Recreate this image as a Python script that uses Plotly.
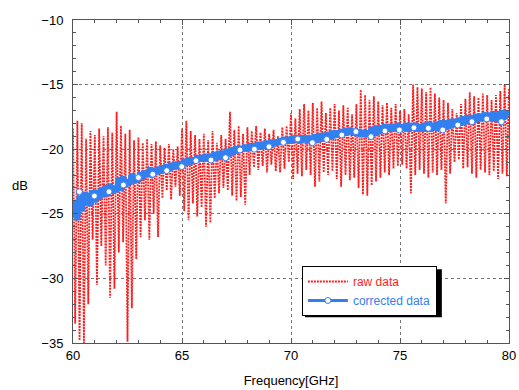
import numpy as np
import plotly.graph_objects as go

# ---- data ----
freq = np.round(np.arange(60.0, 80.0001, 0.1), 2)

raw_db = [
    -18.4, -33.5, -17.8, -34.8, -18.0, -35.0, -19.2, -32.0, -18.6, -27.0,
    -18.9, -30.5, -18.4, -27.5, -19.0, -29.0, -18.3, -31.5, -18.7, -30.8,
    -17.1, -28.0, -18.2, -27.2, -18.8, -34.9, -18.5, -32.3, -19.3, -28.5,
    -19.1, -26.8, -19.5, -25.5, -19.2, -27.0, -19.6, -25.0, -19.4, -26.8,
    -19.7, -23.8, -19.9, -23.2, -19.6, -23.9, -20.0, -22.9, -19.8, -23.6,
    -18.4, -24.8, -17.8, -25.5, -18.6, -24.2, -18.9, -25.2, -19.2, -24.5,
    -18.8, -26.0, -19.3, -25.7, -18.6, -23.8, -19.5, -23.4, -18.9, -23.0,
    -19.2, -23.2, -17.1, -23.6, -18.5, -24.0, -18.2, -23.7, -18.8, -24.3,
    -18.3, -22.0, -18.6, -21.4, -18.2, -21.6, -18.7, -21.3, -18.4, -21.8,
    -18.8, -21.2, -18.5, -21.7, -19.0, -21.8, -18.3, -21.5, -18.2, -21.0,
    -17.2, -22.3, -17.6, -21.9, -16.9, -22.1, -16.5, -21.6, -17.0, -22.0,
    -16.4, -22.9, -16.8, -22.5, -16.3, -21.8, -17.2, -22.0, -16.8, -21.7,
    -16.5, -22.3, -17.0, -22.9, -16.6, -22.0, -16.8, -22.4, -17.3, -22.2,
    -16.5, -23.0, -15.4, -23.5, -15.8, -23.6, -16.2, -22.8, -15.9, -22.5,
    -16.3, -22.2, -16.6, -21.8, -16.4, -22.0, -16.8, -21.5, -16.5, -21.3,
    -17.0, -21.2, -16.9, -21.5, -17.3, -23.4, -15.0, -22.0, -15.2, -21.6,
    -15.3, -21.9, -15.6, -22.2, -15.2, -21.8, -15.7, -22.0, -16.0, -21.6,
    -16.2, -24.2, -16.4, -21.9, -16.9, -21.0, -17.2, -20.8, -16.5, -21.5,
    -16.1, -21.4, -15.6, -21.9, -15.9, -22.2, -16.0, -21.6, -15.7, -21.8,
    -15.8, -22.0, -16.2, -21.7, -15.8, -22.3, -15.5, -21.9, -15.0, -22.1,
    -15.3,
]

corrected_db = [
    -25.3, -24.0, -25.5, -23.6, -24.8, -23.5, -24.3, -23.4, -24.4, -23.2,
    -24.1, -23.2, -23.9, -23.0, -23.7, -22.8, -23.6, -22.7, -23.4, -22.9,
    -23.3, -22.2, -23.2, -22.1, -22.9, -22.4, -22.7, -21.9, -22.6, -22.1,
    -22.5, -21.8, -22.3, -21.7, -22.1, -21.7, -21.9, -21.5, -21.9, -21.4,
    -21.8, -21.3, -21.7, -21.2, -21.6, -21.1, -21.5, -21.0, -21.4, -21.0,
    -21.3, -20.8, -21.2, -20.7, -21.1, -20.7, -21.0, -20.5, -20.9, -20.5,
    -20.9, -20.4, -20.8, -20.4, -20.7, -20.3, -20.6, -20.2, -20.5, -20.2,
    -20.5, -20.0, -20.4, -19.9, -20.3, -19.8, -20.2, -19.8, -20.1, -19.7,
    -20.1, -19.6, -20.0, -19.6, -19.9, -19.5, -19.8, -19.5, -19.8, -19.4,
    -19.8, -19.3, -19.7, -19.3, -19.6, -19.2, -19.5, -19.1, -19.5, -19.1,
    -19.5, -19.0, -19.4, -19.0, -19.5, -19.0, -19.4, -19.0, -19.5, -19.0,
    -19.4, -18.9, -19.3, -18.8, -19.2, -18.8, -19.2, -18.7, -19.1, -18.6,
    -19.0, -18.6, -19.0, -18.5, -18.9, -18.4, -18.8, -18.4, -18.8, -18.5,
    -18.9, -18.5, -19.0, -18.6, -19.0, -18.6, -18.9, -18.3, -18.8, -18.2,
    -18.7, -18.2, -18.6, -18.1, -18.6, -18.1, -18.5, -18.1, -18.5, -18.0,
    -18.6, -18.1, -18.5, -18.0, -18.6, -18.0, -18.5, -18.0, -18.6, -18.1,
    -18.6, -18.0, -18.5, -17.9, -18.6, -18.0, -18.5, -17.9, -18.4, -17.8,
    -18.4, -17.8, -18.3, -17.7, -18.2, -17.7, -18.1, -17.6, -18.1, -17.5,
    -18.0, -17.4, -17.9, -17.4, -17.9, -17.3, -17.8, -17.3, -17.7, -17.2,
    -17.8, -17.2, -17.7, -17.1, -17.7, -17.1, -17.6, -17.0, -17.6, -17.1,
    -17.4,
]

marker_freq = [60.29, 60.98, 61.65, 62.31, 63.0, 63.66, 64.3, 64.99, 65.64, 66.33,
               67.0, 67.66, 68.32, 68.99, 69.65, 70.31, 70.98, 71.64, 72.33, 72.98,
               73.67, 74.31, 74.97, 75.64, 76.3, 76.96, 77.65, 78.3, 78.98, 79.65]
marker_db = [-23.29, -23.62, -23.29, -22.77, -22.2, -21.94, -21.66, -21.35, -20.89, -20.84,
             -20.66, -20.06, -20.0, -19.81, -19.47, -19.21, -19.5, -19.24, -18.9, -18.64,
             -19.03, -18.59, -18.51, -18.34, -18.38, -18.51, -18.13, -17.87, -17.66, -17.87]

x_ticks = [60, 65, 70, 75, 80]
y_ticks = [-35, -30, -25, -20, -15, -10]

RED = "rgb(255,30,30)"
BLUE = "rgb(50,128,240)"
FONT = "Liberation Sans, Arial, Helvetica, sans-serif"

fig = go.Figure()
fig.add_trace(go.Scatter(
    x=freq, y=raw_db, mode="lines",
    line=dict(color=RED, width=1.8, dash="2px,1px"),
    name="<span style='color:rgb(255,30,30)'>raw data</span>",
))
fig.add_trace(go.Scatter(
    x=freq, y=corrected_db, mode="lines",
    line=dict(color=BLUE, width=6),
    showlegend=False, legendgroup="c",
))
fig.add_trace(go.Scatter(
    x=marker_freq, y=marker_db, mode="lines+markers",
    line=dict(color=BLUE, width=3),
    marker=dict(symbol="circle", size=6, color="white", line=dict(color=BLUE, width=1)),
    name="<span style='color:rgb(50,128,240)'>corrected data</span>", legendgroup="c",
))

axis_common = dict(
    showline=True, linecolor="#555", linewidth=1, mirror="ticks",
    ticks="inside", ticklen=5, tickcolor="#555",
    showgrid=True, gridcolor="#777", griddash="dot", gridwidth=1,
    zeroline=False, automargin=False,
    tickfont=dict(family=FONT, size=13, color="black"),
)

fig.update_xaxes(
    range=[60, 80], tickvals=x_ticks,
    minor=dict(dtick=1, ticks="inside", ticklen=3, tickcolor="#555", showgrid=False),
    title=dict(text="Frequency[GHz]", font=dict(family=FONT, size=13, color="black"), standoff=14),
    **axis_common,
)
fig.update_yaxes(
    range=[-35, -10], tickvals=y_ticks,
    minor=dict(dtick=1, ticks="inside", ticklen=3, tickcolor="#555", showgrid=False),
    ticklabelstandoff=6,
    **axis_common,
)

fig.add_annotation(
    text="dB", xref="paper", yref="paper", x=-0.145, y=0.489,
    xanchor="left", yanchor="middle", showarrow=False,
    font=dict(family=FONT, size=13, color="black"),
)

# legend drop shadow (3px offset right/down from the legend box)
fig.add_shape(type="rect", xref="paper", yref="paper",
              x0=0.532, x1=0.846, y0=0.080, y1=0.228,
              fillcolor="black", line=dict(width=0), layer="above")

fig.update_layout(
    width=519, height=390,
    margin=dict(l=73, r=10, t=20, b=47),
    paper_bgcolor="white", plot_bgcolor="white",
    font=dict(family=FONT, size=11),
    legend=dict(
        x=0.525, y=0.161, xanchor="left", yanchor="middle",
        bgcolor="white", bordercolor="black", borderwidth=1,
        itemwidth=40, tracegroupgap=0,
        font=dict(family=FONT, size=12),
    ),
)

fig.write_html("out.html")
